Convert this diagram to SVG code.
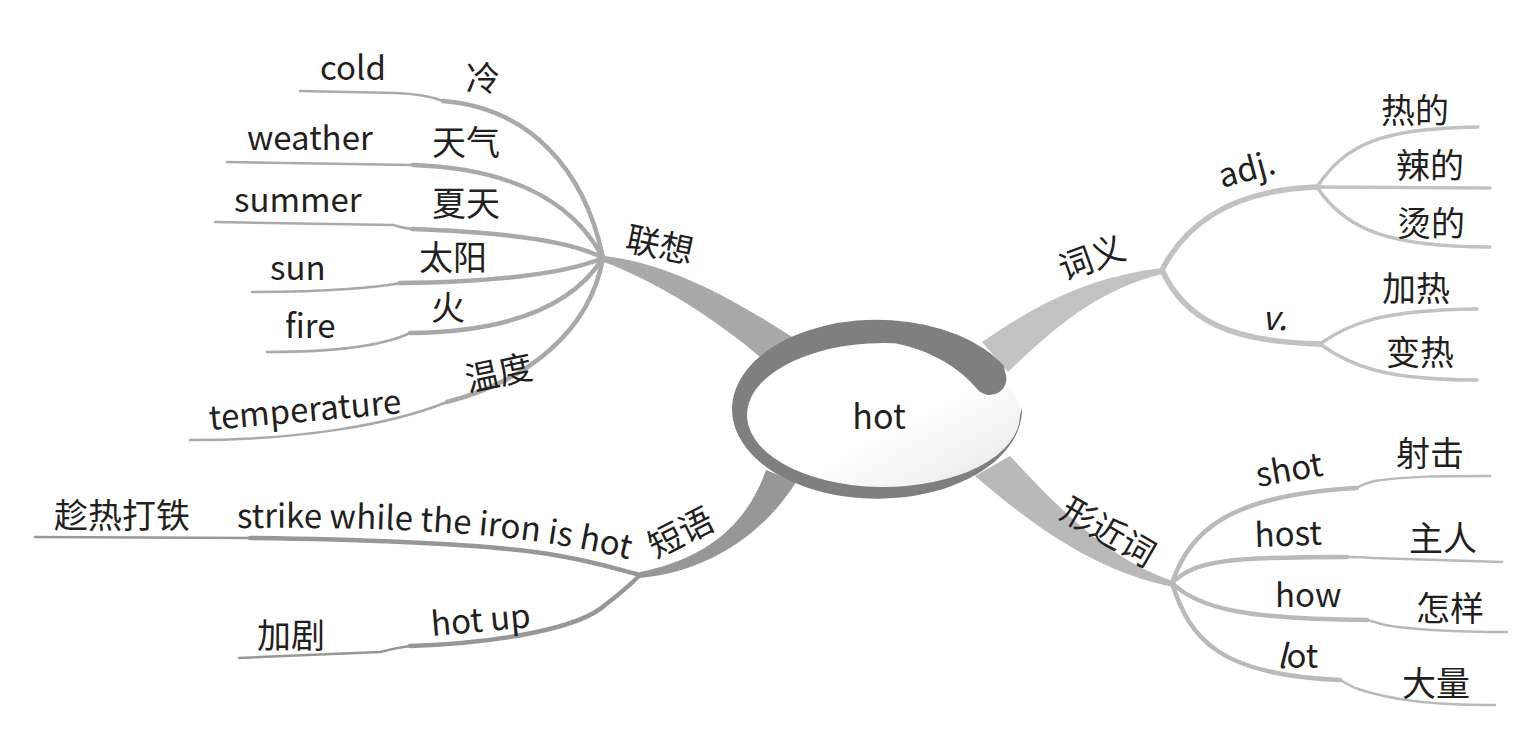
<svg xmlns="http://www.w3.org/2000/svg" width="1530" height="731" viewBox="0 0 1530 731">
<style>
.t{font-family:"Noto Sans CJK SC","Noto Sans",sans-serif;font-size:33px;fill:#231f20}
.c{font-size:34px}
.ln{fill:none;stroke-linecap:round;stroke-linejoin:round}
.lx{stroke:#a9a9a9}.lxf{fill:#a9a9a9}
.cy{stroke:#c2c2c2}.cyf{fill:#c2c2c2}
.xj{stroke:#b9b9b9}.xjf{fill:#b9b9b9}
.dy{stroke:#979797}.dyf{fill:#979797}
.w1{stroke-width:2.5}.w2{stroke-width:4.5}.w3{stroke-width:3.5}.w4{stroke-width:5.5}
</style>
<defs>
<path id="strikePath" d="M 237 528 C 380 527 520 530 640 562"/>
<linearGradient id="shade" x1="0" y1="0" x2="1" y2="1">
<stop offset="0.55" stop-color="#ffffff"/>
<stop offset="1" stop-color="#e6e6e6"/>
</linearGradient>
</defs>
<rect width="1530" height="731" fill="#fff"/>
<g id="connectors">
<!-- 联想 -->
<path class="lxf" d="M 604 256 C 660 262 720 290 792 337 L 766 362 C 720 322 660 283 604 262 Z"/>
<path class="ln lx w1" d="M 300 91 L 395 93 Q 425 94 443 101"/>
<path class="ln lx w2" d="M 443 101 C 530 108 585 170 603 258"/>
<path class="ln lx w1" d="M 227 162 L 413 165"/>
<path class="ln lx w2" d="M 413 165 C 500 168 570 195 603 258"/>
<path class="ln lx w1" d="M 215 222 L 393 225 Q 402 228 412 229"/>
<path class="ln lx w2" d="M 412 229 C 500 232 570 240 603 258"/>
<path class="ln lx w1" d="M 252 292 C 330 292 380 287 400 283"/>
<path class="ln lx w2" d="M 400 283 C 480 282 560 276 603 258"/>
<path class="ln lx w1" d="M 267 352 C 340 352 385 345 410 333"/>
<path class="ln lx w2" d="M 410 333 C 500 332 570 310 603 258"/>
<path class="ln lx w1" d="M 190 440 C 300 440 390 425 447 402"/>
<path class="ln lx w2" d="M 447 402 C 530 380 590 330 603 258"/>
<!-- 词义 -->
<path class="cyf" d="M 1162 268 C 1100 276 1050 295 982 342 L 1008 372 C 1060 322 1100 290 1162 274 Z"/>
<path class="ln cy w4" d="M 1162 270 C 1185 225 1230 190 1317 187"/>
<path class="ln cy w4" d="M 1162 270 C 1185 320 1230 342 1320 344"/>
<path class="ln cy w3" d="M 1317 187 C 1345 145 1380 128 1478 127"/>
<path class="ln cy w3" d="M 1317 187 L 1490 188"/>
<path class="ln cy w3" d="M 1317 187 C 1345 230 1390 247 1490 247"/>
<path class="ln cy w3" d="M 1320 344 C 1350 322 1385 310 1477 309"/>
<path class="ln cy w3" d="M 1320 344 C 1350 366 1385 380 1477 380"/>
<!-- 形近词 -->
<path class="xjf" d="M 1010 456 C 1060 510 1110 560 1173 581 L 1173 587 C 1100 572 1040 532 975 476 Z"/>
<path class="ln xj w2" d="M 1172 583 C 1190 530 1230 495 1357 488"/>
<path class="ln xj w1" d="M 1357 488 Q 1365 483 1375 481 C 1410 476 1440 476 1490 476"/>
<path class="ln xj w2" d="M 1172 583 C 1195 560 1230 557 1347 557"/>
<path class="ln xj w1" d="M 1347 557 Q 1360 557 1373 558 L 1502 562"/>
<path class="ln xj w2" d="M 1172 583 C 1200 610 1250 619 1367 620"/>
<path class="ln xj w1" d="M 1367 620 Q 1375 622 1385 625 C 1420 631 1460 632 1507 632"/>
<path class="ln xj w2" d="M 1172 583 C 1190 640 1220 675 1340 680"/>
<path class="ln xj w1" d="M 1340 680 Q 1347 684 1355 688 C 1390 700 1430 705 1495 705"/>
<!-- 短语 -->
<path class="dyf" d="M 766 470 C 745 530 700 560 640 572 L 640 578 C 700 573 760 540 796 482 Z"/>
<path class="ln dy w1" d="M 35 537 L 250 538"/>
<path class="ln dy w2" d="M 250 538 C 400 540 500 545 560 556 C 600 563 620 570 640 575"/>
<path class="ln dy w1" d="M 239 658 L 380 652 Q 395 648 410 646"/>
<path class="ln dy w2" d="M 410 646 C 500 643 580 628 605 605 Q 625 590 640 575"/>
</g>
<g id="center">
<ellipse cx="883.5" cy="415" rx="137" ry="72.5" fill="url(#shade)"/>
<path fill="#7f7f7f" d="M 1004 366 A 145 89.5 0 1 0 1022 407.5 L 1020 415 A 136.5 72 0 1 1 895 343.3 C 930 350 960 368 978 390 A 16.5 16.5 0 0 0 1005 372 Z"/>
<text class="t c" x="879" y="429" text-anchor="middle">hot</text>
</g>
<g id="lianxiang">
<text class="t c" transform="translate(624 250) rotate(12)">联想</text>
<text class="t" x="320" y="80">cold</text>
<text class="t c" x="466" y="91">冷</text>
<text class="t" x="247" y="150">weather</text>
<text class="t c" x="432" y="155">天气</text>
<text class="t" x="234" y="212">summer</text>
<text class="t c" x="432" y="216">夏天</text>
<text class="t" x="270" y="280">sun</text>
<text class="t c" x="419" y="270">太阳</text>
<text class="t" x="285" y="338">fire</text>
<text class="t c" x="431" y="320">火</text>
<text class="t" transform="translate(210 430) rotate(-5)">temperature</text>
<text class="t c" transform="translate(468 392) rotate(-12)">温度</text>
</g>
<g id="ciyi">
<text class="t c" transform="translate(1064 281) rotate(-20)">词义</text>
<text class="t" transform="translate(1222 188) rotate(-15)">adj.</text>
<text class="t" x="1262" y="330" font-style="italic">v.</text>
<text class="t c" x="1381" y="123">热的</text>
<text class="t c" x="1396" y="178">辣的</text>
<text class="t c" x="1397" y="236">烫的</text>
<text class="t c" x="1382" y="301">加热</text>
<text class="t c" x="1386" y="365">变热</text>
</g>
<g id="xingjinci">
<text class="t c" transform="translate(1058 517) rotate(30)">形近词</text>
<text class="t" transform="translate(1258 487) rotate(-10)">shot</text>
<text class="t c" x="1396" y="466">射击</text>
<text class="t" transform="translate(1255 547) rotate(-2)">host</text>
<text class="t c" x="1409" y="551">主人</text>
<text class="t" x="1275" y="607">how</text>
<text class="t c" x="1416" y="621">怎样</text>
<text class="t" x="1277" y="668"><tspan font-style="italic">l</tspan>ot</text>
<text class="t c" x="1402" y="696">大量</text>
</g>
<g id="duanyu">
<text class="t c" transform="translate(656 559) rotate(-27)">短语</text>
<text class="t"><textPath href="#strikePath">strike while the iron is hot</textPath></text>
<text class="t c" x="54" y="528">趁热打铁</text>
<text class="t" transform="translate(432 636) rotate(-5)">hot up</text>
<text class="t c" x="257" y="648">加剧</text>
</g>
</svg>
